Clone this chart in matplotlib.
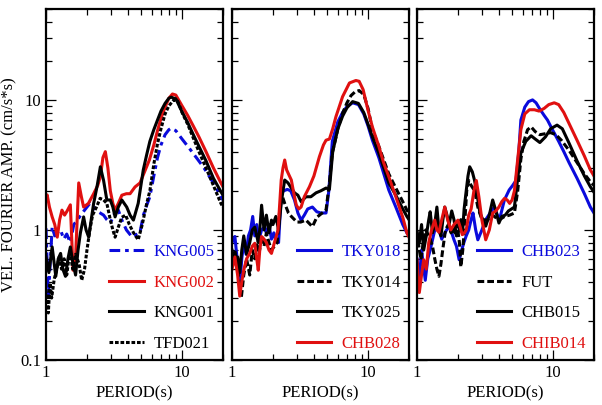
import matplotlib
matplotlib.use("Agg")
import matplotlib.pyplot as plt
from matplotlib.ticker import LogLocator, NullFormatter, FuncFormatter

plt.rcParams['font.family'] = ['Liberation Serif', 'DejaVu Serif']
plt.rcParams['font.size'] = 12

BLUE = "#0a0adc"
RED = "#e01010"
BLACK = "black"

# ---- panel 1 (KNG) ----
kng005_t = [1.0, 1.04, 1.07, 1.11, 1.16, 1.21, 1.28, 1.35, 1.42, 1.51, 1.6, 1.7, 1.8, 1.9, 2.0, 2.1, 2.2,
            2.35, 2.5, 2.65, 2.8, 2.97, 3.2, 3.4, 3.6, 3.9, 4.3, 4.6, 4.9, 5.2, 5.5, 5.8, 6.2, 6.6, 7.0,
            7.5, 8.0, 8.3, 9.0, 10, 11.3, 13, 14.5, 17, 19.3, 20]
kng005_a = [1.03, 0.3, 0.52, 1.05, 0.9, 0.95, 1.0, 0.85, 0.93, 0.8, 1.1, 1.19, 1.3, 1.4, 1.5, 1.6, 1.55,
            1.4, 1.35, 1.3, 1.2, 1.13, 1.35, 1.42, 1.2, 1.0, 0.88, 0.92, 0.95, 1.3, 1.55, 1.8, 2.6, 3.6, 4.5,
            5.4, 5.9, 6.05, 5.8, 5.0, 4.25, 3.5, 3.0, 2.3, 1.8, 1.7]

kng002_t = [1.0, 1.02, 1.06, 1.11, 1.16, 1.21, 1.26, 1.31, 1.37, 1.43, 1.51, 1.58, 1.65, 1.74, 1.82, 1.89,
            2.05, 2.24, 2.4, 2.51, 2.62, 2.73, 2.85, 2.97, 3.1, 3.22, 3.4, 3.61, 3.9, 4.15, 4.51, 4.91,
            5.49, 5.75, 6.2, 6.6, 7.0, 7.5, 8.0, 8.5, 9.0, 10, 11, 12, 13.3, 15, 17, 19.3, 20]
kng002_a = [1.8, 1.86, 1.5, 1.26, 1.1, 0.88, 1.2, 1.42, 1.3, 1.4, 1.56, 0.49, 0.62, 2.3, 1.8, 1.5,
            1.6, 1.9, 2.2, 2.56, 3.6, 4.0, 3.0, 2.0, 1.6, 1.42, 1.6, 1.85, 1.9, 1.9, 2.14, 2.3,
            3.06, 3.45, 4.5, 5.8, 7.2, 8.8, 10.3, 11.1, 10.9, 9.0, 7.6, 6.4, 5.2, 4.0, 3.0, 2.3, 2.15]

kng001_t = [1.0, 1.05, 1.11, 1.18, 1.23, 1.28, 1.33, 1.39, 1.45, 1.51, 1.58, 1.65, 1.72, 1.79, 1.89, 1.97,
            2.06, 2.15, 2.24, 2.38, 2.51, 2.65, 2.8, 2.97, 3.1, 3.22, 3.4, 3.61, 3.92, 4.15, 4.39, 4.76,
            5.19, 5.5, 5.8, 6.2, 6.6, 7.0, 7.5, 8.0, 8.3, 9.0, 10, 11, 12, 13.3, 15, 17, 19.3, 20]
kng001_a = [0.62, 0.47, 0.74, 0.44, 0.6, 0.66, 0.5, 0.44, 0.6, 0.74, 0.55, 0.45, 0.7, 0.95, 1.26, 1.0,
            0.88, 1.2, 1.6, 2.2, 3.06, 2.4, 1.7, 1.7, 1.5, 1.26, 1.5, 1.7, 1.5, 1.3, 1.19, 1.6,
            2.9, 3.8, 4.8, 5.9, 7.0, 8.2, 9.4, 10.3, 10.5, 10.2, 8.1, 6.7, 5.5, 4.4, 3.4, 2.5, 1.97, 1.85]

tfd021_t = [1.0, 1.04, 1.07, 1.1, 1.15, 1.2, 1.25, 1.3, 1.36, 1.42, 1.5, 1.57, 1.65, 1.75, 1.83, 1.92,
            2.0, 2.1, 2.2, 2.35, 2.5, 2.65, 2.8, 2.97, 3.1, 3.22, 3.4, 3.6, 3.85, 4.1, 4.4, 4.76, 5.1,
            5.5, 5.8, 6.2, 6.6, 7.0, 7.5, 8.0, 8.7, 9.3, 10, 11, 12, 13.3, 15, 17, 19.3, 20]
tfd021_a = [0.35, 0.23, 0.39, 0.3, 0.42, 0.5, 0.62, 0.5, 0.6, 0.45, 0.7, 0.5, 0.65, 0.55, 0.41, 0.5,
            0.7, 1.0, 1.3, 1.5, 1.75, 1.7, 1.6, 1.2, 1.0, 0.88, 1.05, 1.25, 1.3, 1.1, 0.95, 0.84, 1.1,
            1.6, 2.0, 3.2, 4.6, 6.0, 7.8, 9.0, 10.0, 9.8, 8.0, 6.5, 5.2, 4.0, 3.0, 2.2, 1.6, 1.5]

# ---- panel 2 (TKY) ----
tky018_t = [1.0, 1.05, 1.1, 1.14, 1.18, 1.22, 1.27, 1.32, 1.37, 1.42, 1.47, 1.52, 1.58, 1.65, 1.72, 1.79,
            1.87, 1.95, 2.03, 2.1, 2.2, 2.3, 2.4, 2.55, 2.7, 2.88, 3.05, 3.22, 3.4, 3.6, 3.9, 4.2, 4.5,
            4.91, 5.15, 5.46, 6.0, 6.5, 7.0, 7.7, 8.5, 9.3, 10, 10.76, 12, 14.2, 16, 18, 19.3, 20]
tky018_a = [0.8, 0.89, 0.55, 0.37, 0.6, 0.8, 0.65, 0.9, 1.0, 1.27, 0.9, 1.1, 0.85, 1.0, 1.05, 0.95,
            1.1, 0.85, 0.95, 0.83, 0.8, 1.9, 2.0, 2.05, 2.0, 1.7, 1.35, 1.19, 1.3, 1.45, 1.5, 1.38, 1.35,
            1.35, 2.0, 4.8, 6.8, 8.0, 8.9, 9.5, 9.2, 7.8, 6.3, 4.9, 3.6, 2.03, 1.5, 1.1, 0.95, 0.9]

tky014_t = [1.0, 1.05, 1.1, 1.17, 1.22, 1.28, 1.35, 1.41, 1.47, 1.52, 1.58, 1.65, 1.72, 1.79, 1.87, 1.95,
            2.05, 2.15, 2.25, 2.35, 2.44, 2.6, 2.73, 2.88, 3.0, 3.2, 3.5, 3.9, 4.2, 4.6, 4.91, 5.2, 5.46,
            6.0, 6.5, 7.0, 7.5, 8.0, 8.6, 9.3, 10, 10.76, 12, 14.2, 16, 18, 19.3, 20]
tky014_a = [0.6, 0.7, 0.5, 0.3, 0.45, 0.6, 0.45, 0.7, 0.6, 0.8, 0.65, 0.9, 0.75, 0.95, 0.8, 0.7,
            0.75, 0.8, 1.5, 1.8, 1.6, 1.35, 1.27, 1.2, 1.15, 1.15, 1.19, 1.06, 1.25, 1.35, 1.42, 2.3, 3.9,
            6.0, 7.9, 9.5, 10.8, 11.5, 11.8, 11.0, 8.6, 5.9, 4.4, 2.7, 2.1, 1.65, 1.42, 1.35]

tky025_t = [1.0, 1.05, 1.1, 1.14, 1.18, 1.22, 1.28, 1.35, 1.41, 1.47, 1.52, 1.56, 1.6, 1.65, 1.72, 1.79,
            1.87, 1.95, 2.0, 2.1, 2.2, 2.3, 2.37, 2.44, 2.58, 2.73, 2.88, 3.05, 3.22, 3.5, 3.8, 4.15, 4.5,
            4.91, 5.2, 5.5, 6.0, 6.5, 7.0, 7.7, 8.5, 9.3, 10, 10.76, 12, 14.2, 16, 18, 19.3, 20]
tky025_a = [0.7, 0.55, 0.62, 0.47, 0.7, 0.9, 0.65, 0.8, 1.0, 1.05, 0.9, 0.8, 1.0, 1.55, 1.0, 1.3,
            0.95, 1.19, 1.1, 1.27, 1.0, 1.6, 2.0, 2.42, 2.3, 2.1, 1.93, 1.85, 1.65, 1.8, 1.8, 1.93, 2.0,
            2.1, 2.05, 4.0, 6.0, 7.5, 8.7, 9.7, 9.4, 8.0, 6.5, 5.2, 3.9, 2.3, 1.85, 1.45, 1.27, 1.2]

chb028_t = [1.0, 1.05, 1.1, 1.14, 1.18, 1.22, 1.28, 1.35, 1.41, 1.47, 1.52, 1.56, 1.6, 1.65, 1.72, 1.79,
            1.87, 1.95, 2.05, 2.18, 2.3, 2.37, 2.44, 2.52, 2.6, 2.73, 2.85, 2.97, 3.1, 3.22, 3.4, 3.71,
            4.0, 4.39, 4.7, 4.91, 5.2, 5.5, 5.8, 6.5, 7.3, 8.14, 8.6, 9.2, 10, 10.76, 12, 13, 14.2, 16, 18,
            19.3, 20]
chb028_a = [0.5, 0.62, 0.45, 0.31, 0.4, 0.49, 0.6, 0.66, 0.75, 0.79, 0.6, 0.49, 0.7, 0.89, 0.85, 0.8,
            0.7, 0.66, 0.8, 1.0, 2.42, 3.0, 3.45, 2.9, 2.7, 2.42, 1.9, 1.55, 1.45, 1.5, 1.8, 2.15,
            2.6, 3.66, 4.5, 4.9, 5.0, 6.0, 7.4, 10.6, 13.5, 14.1, 13.9, 12.0, 8.3, 6.2, 4.4, 3.3, 2.57, 1.8,
            1.25, 0.95, 0.88]

# ---- panel 3 (CHB) ----
chb023_t = [1.0, 1.04, 1.08, 1.15, 1.2, 1.25, 1.32, 1.39, 1.45, 1.52, 1.58, 1.65, 1.72, 1.8, 1.87, 1.95,
            2.04, 2.13, 2.22, 2.3, 2.4, 2.5, 2.58, 2.7, 2.8, 3.0, 3.2, 3.45, 3.7, 4.03, 4.39, 4.76, 5.05,
            5.34, 5.6, 5.8, 6.2, 6.6, 7.07, 7.5, 8.0, 8.6, 9.1, 9.9, 11, 12, 13.1, 15, 17, 18.8, 20]
chb023_a = [0.6, 0.41, 0.7, 0.41, 0.6, 0.7, 0.9, 1.13, 1.0, 0.85, 0.92, 1.0, 1.07, 0.95, 0.84, 0.75,
            0.59, 0.7, 0.81, 0.9, 1.0, 1.2, 1.35, 1.0, 0.84, 1.0, 1.2, 1.35, 1.5, 1.19, 1.7, 2.03, 2.2,
            2.4, 4.0, 7.0, 8.8, 9.7, 10.0, 9.5, 8.5, 7.6, 7.0, 5.9, 4.8, 4.0, 3.3, 2.5, 1.9, 1.5, 1.35]

fut_t = [1.0, 1.04, 1.07, 1.11, 1.16, 1.2, 1.25, 1.3, 1.35, 1.4, 1.45, 1.5, 1.55, 1.62, 1.7, 1.78, 1.85,
         1.9, 1.97, 2.05, 2.1, 2.17, 2.25, 2.32, 2.4, 2.5, 2.65, 2.8, 3.0, 3.3, 3.6, 4.0, 4.4, 4.8, 5.2,
         5.5, 5.8, 6.1, 6.5, 6.9, 7.4, 8.0, 8.8, 9.6, 10.5, 11.5, 13.1, 15, 17, 18.8, 20]
fut_a = [0.98, 0.7, 0.59, 0.8, 1.0, 0.93, 0.85, 0.75, 0.6, 0.5, 0.44, 0.55, 0.72, 1.0, 1.1, 0.95, 1.05,
         0.95, 1.1, 0.8, 0.52, 0.7, 1.2, 2.0, 2.4, 2.2, 2.0, 1.5, 1.2, 1.19, 1.3, 1.19, 1.27, 1.3, 1.35,
         2.0, 3.5, 4.8, 5.9, 6.2, 5.7, 5.4, 5.5, 5.6, 5.4, 4.9, 4.1, 3.3, 2.7, 2.35, 2.2]

chb015_t = [1.0, 1.04, 1.08, 1.12, 1.17, 1.22, 1.25, 1.3, 1.35, 1.4, 1.45, 1.5, 1.55, 1.6, 1.66, 1.72,
            1.8, 1.87, 1.95, 2.04, 2.1, 2.16, 2.22, 2.3, 2.37, 2.44, 2.55, 2.65, 2.78, 2.9, 3.05, 3.2,
            3.4, 3.6, 3.8, 4.0, 4.2, 4.45, 4.7, 4.95, 5.2, 5.5, 5.8, 6.3, 6.9, 7.4, 8.0, 8.8, 9.6, 10.7,
            11.7, 13.1, 15, 17, 18.8, 20]
chb015_a = [0.95, 0.8, 1.1, 0.7, 0.9, 1.2, 1.38, 0.95, 1.1, 1.5, 1.0, 0.9, 1.2, 1.5, 1.3, 1.1,
            1.4, 1.2, 0.9, 1.0, 1.2, 0.95, 1.45, 2.0, 2.6, 3.06, 2.8, 2.4, 1.8, 1.35, 1.2, 1.07,
            1.3, 1.7, 1.4, 1.13, 1.27, 1.3, 1.4, 1.45, 1.5, 2.5, 3.9, 4.8, 5.3, 5.0, 4.7, 5.2, 6.0, 6.4,
            6.0, 4.66, 3.4, 2.6, 2.15, 1.95]

chib014_t = [1.0, 1.04, 1.08, 1.12, 1.17, 1.22, 1.28, 1.35, 1.4, 1.45, 1.52, 1.6, 1.68, 1.77, 1.87, 2.0,
             2.08, 2.15, 2.23, 2.3, 2.4, 2.5, 2.62, 2.73, 2.85, 3.0, 3.2, 3.4, 3.6, 3.8, 4.0, 4.2, 4.4,
             4.6, 4.8, 5.0, 5.2, 5.5, 5.8, 6.2, 6.7, 7.3, 7.9, 8.6, 9.3, 10.2, 11, 12, 13.1, 15, 17,
             18.8, 20]
chib014_a = [0.59, 0.33, 0.45, 0.59, 0.5, 0.8, 1.0, 1.19, 1.0, 0.96, 1.2, 1.5, 1.2, 1.0, 1.1, 1.19,
             1.05, 0.92, 0.95, 1.0, 1.3, 1.45, 2.0, 2.4, 1.8, 1.19, 0.84, 1.0, 1.35, 1.4, 1.5, 1.65, 1.75,
             1.7, 1.6, 1.7, 2.0, 3.5, 5.9, 7.8, 8.4, 8.4, 8.2, 8.6, 9.2, 9.5, 9.2, 8.0, 6.6, 4.9, 3.7,
             2.9, 2.6]

SOLID = dict(ls="-")
DOTTED = dict(ls=(0, (1.2, 0.6)))
DASHED = dict(ls=(0, (2.2, 1.0)))
DASHDOT = dict(ls=(0, (3.5, 1.6, 1.2, 1.6)))

panels = [
    [("KNG005", kng005_t, kng005_a, BLUE, DASHDOT),
     ("KNG002", kng002_t, kng002_a, RED, SOLID),
     ("KNG001", kng001_t, kng001_a, BLACK, SOLID),
     ("TFD021", tfd021_t, tfd021_a, BLACK, DOTTED)],
    [("TKY018", tky018_t, tky018_a, BLUE, SOLID),
     ("TKY014", tky014_t, tky014_a, BLACK, DASHED),
     ("TKY025", tky025_t, tky025_a, BLACK, SOLID),
     ("CHB028", chb028_t, chb028_a, RED, SOLID)],
    [("CHB023", chb023_t, chb023_a, BLUE, SOLID),
     ("FUT", fut_t, fut_a, BLACK, DASHED),
     ("CHB015", chb015_t, chb015_a, BLACK, SOLID),
     ("CHIB014", chib014_t, chib014_a, RED, SOLID)],
]

W, H = 602, 405
lefts = [46, 232, 417]
pw, ph = 177, 351
bottom = 360

fig = plt.figure(figsize=(W / 100, H / 100), dpi=100)

def fmt(v, pos):
    if v >= 1:
        return "%d" % round(v)
    return "%g" % v

for i, series in enumerate(panels):
    ax = fig.add_axes([lefts[i] / W, (H - bottom) / H, pw / W, ph / H])
    for name, t, a, c, style in series:
        ax.plot(t, a, color=c, lw=2.2, label=name, **style)
    ax.set_xscale("log")
    ax.set_yscale("log")
    ax.set_xlim(1, 20)
    ax.set_ylim(0.1, 50)
    ax.xaxis.set_major_locator(LogLocator(base=10))
    ax.yaxis.set_major_locator(LogLocator(base=10))
    ax.xaxis.set_minor_locator(LogLocator(base=10, subs=range(2, 10)))
    ax.yaxis.set_minor_locator(LogLocator(base=10, subs=range(2, 10)))
    ax.xaxis.set_minor_formatter(NullFormatter())
    ax.yaxis.set_minor_formatter(NullFormatter())
    ax.xaxis.set_major_formatter(FuncFormatter(fmt))
    ax.yaxis.set_major_formatter(FuncFormatter(fmt))
    ax.tick_params(which="both", direction="in", top=True, right=True, width=0.9, labelsize=12)
    ax.tick_params(which="major", length=7)
    ax.tick_params(which="minor", length=4.5)
    for sp in ax.spines.values():
        sp.set_linewidth(1.6)
    if i > 0:
        ax.tick_params(labelleft=False)
    else:
        ax.set_ylabel("VEL. FOURIER AMP. (cm/s*s)", fontsize=12, labelpad=2)
    ax.set_xlabel("PERIOD(s)", fontsize=12, labelpad=3)
    leg = ax.legend(loc="lower right", frameon=False, fontsize=12, handlelength=2.05,
                    handletextpad=0.6, labelspacing=0.87, borderaxespad=0.2, borderpad=0.3)
    for txt, s in zip(leg.get_texts(), series):
        txt.set_color(s[3])

fig.savefig("out.png", dpi=100)
